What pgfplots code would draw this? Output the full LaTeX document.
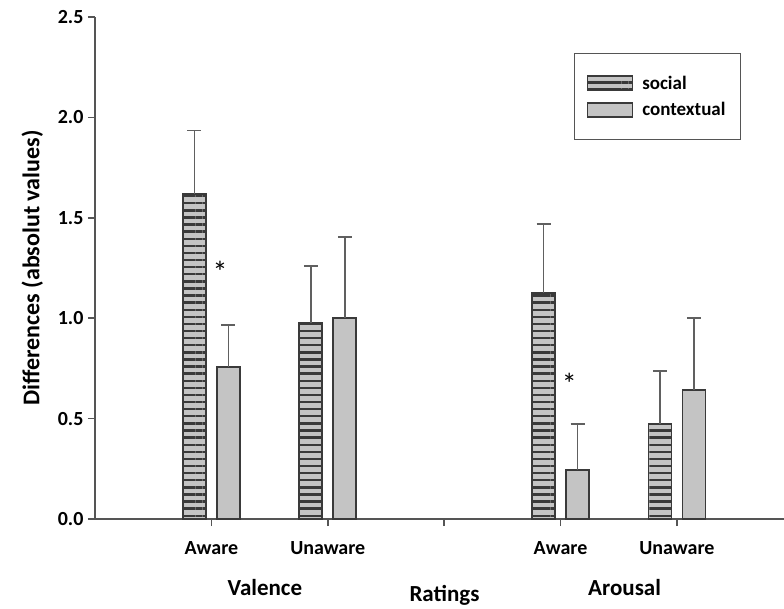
\documentclass[border=0pt]{standalone}
\usepackage{fontspec}
\setmainfont{Carlito}
\usepackage{pgfplots}
\pgfplotsset{compat=1.18}
\usetikzlibrary{patterns.meta}
\definecolor{barfill}{HTML}{C4C4C4}
\definecolor{barline}{HTML}{3A3A3A}
\definecolor{axline}{HTML}{555555}
\definecolor{errline}{HTML}{606060}
\begin{document}
\begin{tikzpicture}
\begin{axis}[
  scale only axis,
  width=689pt, height=502pt,
  xmin=0, xmax=5.92,
  ymin=0, ymax=2.5,
  axis lines=left,
  axis line style={-, color=axline, line width=1.5pt},
  tick style={color=axline, line width=1.5pt},
  tick align=outside,
  major tick length=7pt,
  xtick={1,2,3,4,5},
  xticklabels={Aware,Unaware,,Aware,Unaware},
  ytick={0,0.5,1,1.5,2,2.5},
  ticklabel style={font=\fontsize{20}{24}\selectfont\bfseries},
  yticklabel style={xshift=-1pt, /pgf/number format/.cd, fixed, fixed zerofill, precision=1, assume math mode=true},
  xticklabel style={yshift=-12pt},
  ylabel={Differences (absolut values)},
  ylabel style={font=\fontsize{24}{28}\selectfont\bfseries, yshift=8pt},
  xlabel={Ratings},
  xlabel style={font=\fontsize{23}{27}\selectfont\bfseries, yshift=-24pt, xshift=5pt},
  ybar,
  bar width=23pt,
  legend style={at={(0.6952,0.928)}, anchor=north west, draw=axline, line width=1.3pt,
    font=\fontsize{19}{23}\selectfont\bfseries, inner xsep=12pt, inner ysep=20pt,
    row sep=8pt, text width=84pt, cells={anchor=west}},
  legend image code/.code={\draw[#1] (0pt,-7pt) rectangle (45pt,7pt); \path[draw=none,fill=none,pattern=none,postaction={}] (52pt,0pt);},
  clip=false,
]
\addplot[bar shift=-17pt, fill=barfill, draw=barline, line width=1.6pt,
  postaction={pattern={Lines[angle=0,distance=7.1pt,line width=2.4pt]}, pattern color=barline},
  error bars/.cd, y dir=plus, y explicit,
  error bar style={color=errline, line width=1.5pt},
  error mark options={rotate=90, mark size=7pt, line width=1.5pt, color=errline}]
  coordinates {(1,1.62) +- (0,0.315) (2,0.976) +- (0,0.285) (4,1.125) +- (0,0.345) (5,0.473) +- (0,0.265)};
\addlegendentry{social}
\addplot[bar shift=17pt, fill=barfill, draw=barline, line width=1.6pt,
  error bars/.cd, y dir=plus, y explicit,
  error bar style={color=errline, line width=1.5pt},
  error mark options={rotate=90, mark size=7pt, line width=1.5pt, color=errline}]
  coordinates {(1,0.757) +- (0,0.21) (2,1.0) +- (0,0.404) (4,0.244) +- (0,0.229) (5,0.642) +- (0,0.358)};
\addlegendentry{contextual}
\node[font=\fontsize{30}{32}\selectfont, anchor=north, inner sep=0pt] at (axis cs:1.075,1.285) {*};
\node[font=\fontsize{30}{32}\selectfont, anchor=north, inner sep=0pt] at (axis cs:4.075,0.725) {*};
\node[font=\fontsize{23}{27}\selectfont\bfseries] at (axis cs:1.46,0) [yshift=-69pt] {Valence};
\node[font=\fontsize{23}{27}\selectfont\bfseries] at (axis cs:4.55,0) [yshift=-69pt] {Arousal};
\end{axis}
\pgfresetboundingbox
\path (0,0) ++(-95pt,-89pt) rectangle ++(784pt,608pt);
\end{tikzpicture}
\end{document}
